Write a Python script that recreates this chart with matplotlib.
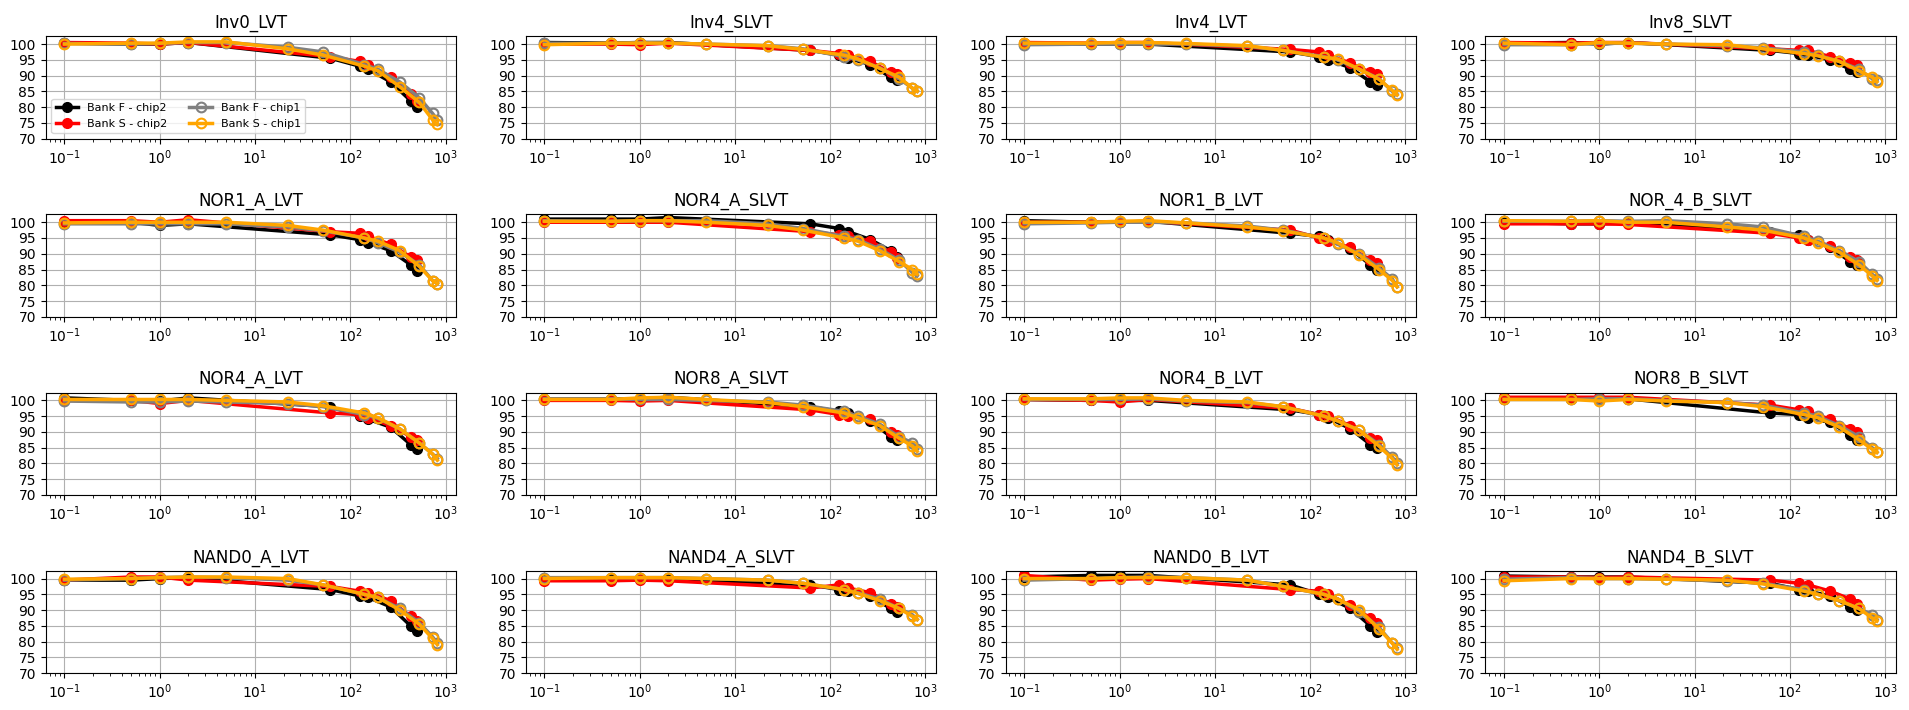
import matplotlib
matplotlib.use("Agg")
import matplotlib.pyplot as plt

titles = ["Inv0_LVT", "Inv4_SLVT", "Inv4_LVT", "Inv8_SLVT",
          "NOR1_A_LVT", "NOR4_A_SLVT", "NOR1_B_LVT", "NOR_4_B_SLVT",
          "NOR4_A_LVT", "NOR8_A_SLVT", "NOR4_B_LVT", "NOR8_B_SLVT",
          "NAND0_A_LVT", "NAND4_A_SLVT", "NAND0_B_LVT", "NAND4_B_SLVT"]

x_chip2 = [0.1, 0.5, 1, 2, 62, 125, 155, 265, 430, 500]
x_chip1 = [0.1, 0.5, 1, 2, 5, 22, 52, 140, 195, 330, 530, 730, 820]

bank_f_chip2 = [
    [100.3, 100, 100, 100.5, 95.5, 93, 92, 88, 82, 80],
    [100.5, 100.3, 100.5, 100.5, 98, 96.5, 95.5, 93.5, 89.5, 88.5],
    [100.3, 100, 100, 100, 97.5, 96, 95, 92.5, 88, 87],
    [100.3, 100.5, 100, 100.5, 98, 97, 96.5, 95, 92, 91],
    [100, 100, 99, 99.5, 96, 94.5, 93.5, 91, 86.5, 84.5],
    [101, 101, 101, 101.5, 99.5, 98, 97, 94.5, 91, 89],
    [100.5, 100, 100, 100.3, 96.5, 95.5, 94.5, 91.5, 86.5, 85],
    [100, 99.5, 99.5, 99.8, 97, 96, 94.5, 92, 87.5, 86.5],
    [100.8, 100, 99.8, 100.8, 98, 95, 94, 91.5, 86, 84.5],
    [100.5, 100.5, 100.5, 101, 98, 96.5, 96, 93.5, 88.5, 87.5],
    [100.3, 100, 100, 100, 97, 95.5, 94.5, 91, 86, 85],
    [100.5, 100.5, 100.3, 100.5, 96, 95.5, 94.5, 93, 89, 87.5],
    [99.5, 99.5, 100, 100.3, 96.5, 94.5, 94, 91, 85, 83.5],
    [100, 100, 100, 100, 98, 96.5, 96, 94.5, 90.5, 89.5],
    [100.5, 101, 101, 101, 98, 95, 94, 90.5, 85, 83],
    [100.8, 100.5, 100.5, 100.5, 98.5, 96.5, 96, 94.5, 91, 90],
]

bank_s_chip2 = [
    [100.5, 100.3, 100, 100.5, 96, 94.5, 93.5, 89.5, 84, 82],
    [100, 100, 99.8, 100.3, 98, 97, 96.5, 94.5, 91, 90.5],
    [100.5, 100.3, 100.5, 100.5, 98.3, 97.5, 96.5, 94, 91, 90.5],
    [100.5, 100.3, 100.5, 100.5, 98.5, 98, 98, 96, 94, 93.5],
    [100.5, 100.5, 100, 100.8, 97, 96.5, 95.5, 93, 89, 88],
    [100, 100, 100, 100, 97, 96, 95.5, 94, 90.5, 88.5],
    [100, 100, 100, 100.3, 97.5, 95, 94, 92, 88, 87],
    [99.5, 99.5, 99.5, 99.3, 96.5, 95, 94.5, 92.5, 89, 88],
    [100, 100, 99, 100, 96, 95.5, 94.5, 92, 88.5, 87.5],
    [100, 100, 99.8, 100, 97, 95.5, 95, 94, 90, 89],
    [100.3, 100, 99.5, 100.3, 97.5, 95.5, 95, 92, 88, 87.5],
    [101, 101, 101, 101, 98.5, 97, 96.5, 94, 91, 90],
    [99.5, 100.5, 100.5, 99.5, 97.5, 96, 95.5, 93, 88, 86.5],
    [99.3, 99.3, 99.5, 99.3, 97, 98, 97, 95.5, 92, 91],
    [101, 99.5, 99.8, 100, 96.5, 96, 95, 91.5, 87.5, 86],
    [100.5, 100.5, 100.3, 100.5, 99.5, 98.5, 98, 96, 93.5, 92],
]

bank_f_chip1 = [
    [100.2, 100, 100.2, 100.5, 100.5, 99, 97.5, 93.5, 92, 88, 83, 78, 76],
    [100.3, 100.2, 100.5, 100.3, 100, 99.5, 98.5, 96, 95, 92.5, 89, 86, 85],
    [99.8, 100, 100, 100, 100, 99.3, 98, 96, 95, 92, 89, 85, 84],
    [99.8, 99.8, 100.3, 100.3, 100, 99.5, 98.8, 97.5, 96.5, 94.5, 92, 89, 88.5],
    [99.5, 99.5, 99.5, 99.5, 99.5, 98.5, 97.3, 95, 93.5, 90.5, 86.5, 81.5, 80.5],
    [100.5, 100.3, 100.5, 100.5, 100.5, 99.5, 98, 95.5, 94.5, 91.5, 88, 84, 83],
    [99.5, 99.8, 100, 100, 99.8, 98.8, 97.5, 95, 93, 90, 85.5, 82, 79.5],
    [100.3, 100.3, 100.5, 100.3, 100.5, 99.5, 98.5, 95.5, 94, 91, 87.5, 83.5, 82],
    [99.8, 99.5, 99.5, 99.8, 99.5, 99, 98, 95.5, 94.3, 91, 86.5, 83, 81.5],
    [100.5, 100.5, 100.3, 100.3, 100, 99.5, 98.5, 96.5, 95, 92.5, 88.5, 86.5, 84.5],
    [100.3, 100.3, 100.3, 100.5, 99.8, 99.3, 98, 95, 93.5, 90.5, 86, 82, 80],
    [100.3, 100.3, 100.5, 100.5, 100, 99.3, 98.5, 96, 95, 92, 88.5, 85, 83.5],
    [99.5, 100, 100.3, 100.5, 100.3, 99.5, 98, 95, 94, 90.5, 86, 81.5, 79.5],
    [100.3, 100.3, 100.3, 100.3, 100, 99.5, 98.5, 96.5, 95.5, 93.5, 90.5, 88.5, 87],
    [99.5, 100, 100.3, 100.5, 100.3, 99.5, 97.5, 95, 93.5, 89.5, 84.5, 79.5, 78],
    [99.8, 100.3, 100, 100, 99.8, 99.3, 98.5, 96.5, 95, 93, 90.5, 88.5, 87],
]

bank_s_chip1 = [
    [100, 100.3, 100.3, 100.7, 100.7, 98.5, 96.5, 93, 91.5, 86.5, 81.5, 76, 74.5],
    [99.8, 100.3, 100.3, 100.3, 100, 99.5, 98.3, 96.5, 95.3, 92.3, 89.5, 86, 85],
    [100.3, 100.3, 100.5, 100.5, 100.2, 99.5, 98, 95.8, 95.3, 92, 88.8, 85.3, 83.8],
    [100.3, 99.8, 100.5, 100.3, 100, 99.8, 98.5, 97, 96.3, 94.5, 91.5, 89.5, 88],
    [99.8, 100, 100, 100, 100, 99, 97.5, 95, 94, 91, 86, 81.5, 80.5],
    [100.3, 100.3, 100.5, 100.5, 100, 99, 97.5, 95, 94, 91, 87.5, 85, 83.5],
    [100, 100, 100.3, 100.5, 99.8, 98.5, 97.3, 95, 93.5, 89.5, 85, 81.5, 79.5],
    [100.5, 100.3, 100.5, 100, 100, 98.5, 97.5, 95, 93.5, 90.5, 86.5, 83, 81.5],
    [100.3, 100.3, 100.3, 100.3, 100, 99.5, 98.3, 96, 94.5, 91, 86.5, 83, 81],
    [100.3, 100.3, 100.8, 101, 100.3, 99.3, 98, 96, 94.5, 92, 88, 85.5, 83.8],
    [100.5, 100.5, 100.8, 100.8, 100, 99.5, 98, 95, 93.5, 90.5, 85.5, 81.5, 79.5],
    [100.3, 100.3, 99.8, 100.3, 99.8, 99.3, 98, 95.5, 94.5, 91.5, 87.5, 84.5, 83.5],
    [99.8, 100, 100.3, 100.5, 100.5, 100, 98, 95, 94, 90, 85.5, 81, 79],
    [100, 100.3, 100.3, 100.3, 100, 99.5, 98.5, 96.5, 95.3, 93, 90.5, 88, 87],
    [100, 100, 100.3, 100.3, 100.3, 99.5, 97.5, 95, 93.5, 90, 84, 79.5, 77.5],
    [99.3, 100, 100, 100, 99.8, 99.5, 98.3, 96, 95, 93, 90.5, 87.5, 86.5],
]

series_labels = ["Bank F - chip2", "Bank S - chip2", "Bank F - chip1", "Bank S - chip1"]
series_colors = ["black", "red", "grey", "orange"]
y_ticks = [70, 75, 80, 85, 90, 95, 100]

fig, axes = plt.subplots(4, 4, figsize=(19.09, 7.10), dpi=100)
fig.subplots_adjust(left=0.024, right=0.993, top=0.949, bottom=0.052,
                    wspace=0.17, hspace=0.74)

for i, ax in enumerate(axes.flat):
    ax.plot(x_chip2, bank_f_chip2[i], "-o", color=series_colors[0], lw=2.5, ms=7,
            label=series_labels[0])
    ax.plot(x_chip2, bank_s_chip2[i], "-o", color=series_colors[1], lw=2.5, ms=7,
            label=series_labels[1])
    ax.plot(x_chip1, bank_f_chip1[i], "-o", color=series_colors[2], lw=2.5, ms=7,
            mfc="none", mew=1.5, label=series_labels[2])
    ax.plot(x_chip1, bank_s_chip1[i], "-o", color=series_colors[3], lw=2.5, ms=7,
            mfc="none", mew=1.5, label=series_labels[3])
    ax.set_xscale("log")
    ax.set_ylim(70, 102.5)
    ax.set_yticks(y_ticks)
    ax.grid(True)
    ax.set_title(titles[i], fontsize=12)
    if i == 0:
        ax.legend(ncol=2, fontsize=8, loc="lower left")

fig.savefig("out.png", dpi=100)
